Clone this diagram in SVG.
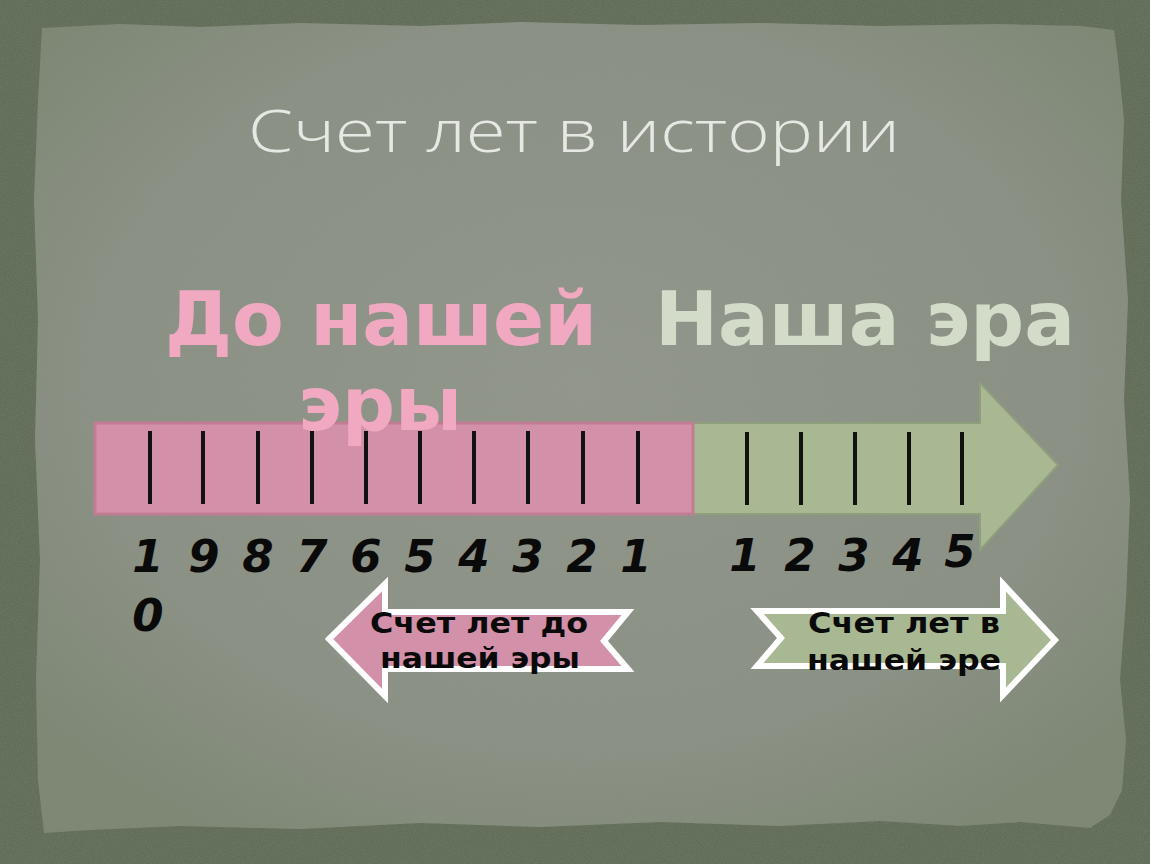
<svg xmlns="http://www.w3.org/2000/svg" width="1150" height="864" viewBox="0 0 1150 864">
<defs>
<radialGradient id="paper" cx="50%" cy="45%" r="65%">
<stop offset="0" stop-color="#91958b"/>
<stop offset="0.7" stop-color="#898f83"/>
<stop offset="1" stop-color="#7b8572"/>
</radialGradient>
<filter id="grain" x="0" y="0" width="100%" height="100%">
<feTurbulence type="fractalNoise" baseFrequency="0.9" numOctaves="2" seed="3" result="n"/>
<feColorMatrix in="n" type="matrix" values="0 0 0 0 0.33  0 0 0 0 0.38  0 0 0 0 0.31  0 0 0 0.3 0" result="c"/>
<feComposite in="c" in2="SourceGraphic" operator="in"/>
</filter>
<style>
.tick{stroke:#111;stroke-width:4;stroke-linecap:butt}
.num{font-family:"DejaVu Sans",sans-serif;font-weight:bold;font-style:italic;font-size:45px;fill:#0a0a0a;text-anchor:middle}
.lbl{font-family:"DejaVu Sans",sans-serif;font-weight:bold;font-size:28px;fill:#0a0a0a;text-anchor:middle}
.era{font-family:"DejaVu Sans",sans-serif;font-weight:bold;font-size:74px}
</style>
</defs>
<rect width="1150" height="864" fill="#5b6752"/>
<rect width="1150" height="864" fill="#5b6752" filter="url(#grain)"/>
<path d="M42 28 L120 24 L200 27 L300 23 L420 26 L520 22 L640 25 L760 23 L880 26 L1000 24 L1080 26 L1114 30 L1118 60 L1124 120 L1121 200 L1128 300 L1124 400 L1130 500 L1126 600 L1120 680 L1126 740 L1122 790 L1110 815 L1090 828 L1020 822 L960 826 L880 821 L780 826 L660 822 L540 827 L420 823 L300 829 L180 826 L90 830 L44 833 L38 780 L36 680 L40 560 L35 440 L38 320 L34 200 L38 100 Z" fill="url(#paper)"/>
<path d="M42 28 L120 24 L200 27 L300 23 L420 26 L520 22 L640 25 L760 23 L880 26 L1000 24 L1080 26 L1114 30 L1118 60 L1124 120 L1121 200 L1128 300 L1124 400 L1130 500 L1126 600 L1120 680 L1126 740 L1122 790 L1110 815 L1090 828 L1020 822 L960 826 L880 821 L780 826 L660 822 L540 827 L420 823 L300 829 L180 826 L90 830 L44 833 L38 780 L36 680 L40 560 L35 440 L38 320 L34 200 L38 100 Z" fill="#8c9286" filter="url(#grain)" opacity="0.6"/>

<g id="title">
<text x="574" y="152" text-anchor="middle" font-family="'Open Sans','DejaVu Sans',sans-serif" font-weight="300" font-size="58" fill="#e6e9e3" textLength="652" lengthAdjust="spacingAndGlyphs">Счет лет в истории</text>
</g>

<g id="bc-label">
<text class="era" x="165" y="345" fill="#f1a9c2" textLength="432" lengthAdjust="spacingAndGlyphs">До нашей</text>
</g>
<g id="ad-label">
<text class="era" x="655" y="345" fill="#d3dcc9" textLength="420" lengthAdjust="spacingAndGlyphs">Наша эра</text>
</g>

<g id="timeline-ad">
<path d="M693 423 L980 423 L980 383 L1058 465 L980 550 L980 514 L693 514 Z" fill="#a8b893" stroke="#8e9f7c" stroke-width="2"/>
<line class="tick" x1="747" y1="432" x2="747" y2="505"/>
<line class="tick" x1="801" y1="432" x2="801" y2="505"/>
<line class="tick" x1="855" y1="432" x2="855" y2="505"/>
<line class="tick" x1="909" y1="432" x2="909" y2="505"/>
<line class="tick" x1="962" y1="432" x2="962" y2="505"/>
</g>
<g id="timeline-bc">
<rect x="95" y="423" width="598" height="91" fill="#d291a9" stroke="#c27c93" stroke-width="3"/>
<text class="era" x="298" y="430" fill="#f1a9c2" textLength="164" lengthAdjust="spacingAndGlyphs">эры</text>
<line class="tick" x1="150" y1="431" x2="150" y2="504"/>
<line class="tick" x1="203" y1="431" x2="203" y2="504"/>
<line class="tick" x1="258" y1="431" x2="258" y2="504"/>
<line class="tick" x1="312" y1="431" x2="312" y2="504"/>
<line class="tick" x1="366" y1="431" x2="366" y2="504"/>
<line class="tick" x1="420" y1="431" x2="420" y2="504"/>
<line class="tick" x1="474" y1="431" x2="474" y2="504"/>
<line class="tick" x1="528" y1="431" x2="528" y2="504"/>
<line class="tick" x1="583" y1="431" x2="583" y2="504"/>
<line class="tick" x1="638" y1="431" x2="638" y2="504"/>
</g>

<g id="numbers-bc">
<text class="num" x="148" y="572">1</text>
<text class="num" x="148" y="631">0</text>
<text class="num" x="204" y="572">9</text>
<text class="num" x="258" y="572">8</text>
<text class="num" x="312" y="572">7</text>
<text class="num" x="366" y="572">6</text>
<text class="num" x="420" y="572">5</text>
<text class="num" x="474" y="572">4</text>
<text class="num" x="528" y="572">3</text>
<text class="num" x="582" y="572">2</text>
<text class="num" x="636" y="572">1</text>
</g>
<g id="numbers-ad">
<text class="num" x="745" y="571">1</text>
<text class="num" x="800" y="571">2</text>
<text class="num" x="854" y="571">3</text>
<text class="num" x="908" y="571">4</text>
<text class="num" x="960" y="567">5</text>
</g>

<g id="bc-arrow">
<path d="M329 639 L385 584 L385 612 L628 612 L604 641 L628 669 L385 669 L385 696 Z" fill="#d291a9" stroke="#ffffff" stroke-width="6" stroke-linejoin="miter"/>
<text class="lbl" x="479" y="633" textLength="218" lengthAdjust="spacingAndGlyphs">Счет лет до</text>
<text class="lbl" x="480" y="668" textLength="200" lengthAdjust="spacingAndGlyphs">нашей эры</text>
</g>
<g id="ad-arrow">
<path d="M757 611 L1003 611 L1003 584 L1055 640 L1003 695 L1003 666 L757 666 L781 638 Z" fill="#a8b893" stroke="#ffffff" stroke-width="6" stroke-linejoin="miter"/>
<text class="lbl" x="904" y="633" textLength="192" lengthAdjust="spacingAndGlyphs">Счет лет в</text>
<text class="lbl" x="904" y="670" textLength="194" lengthAdjust="spacingAndGlyphs">нашей эре</text>
</g>
</svg>
